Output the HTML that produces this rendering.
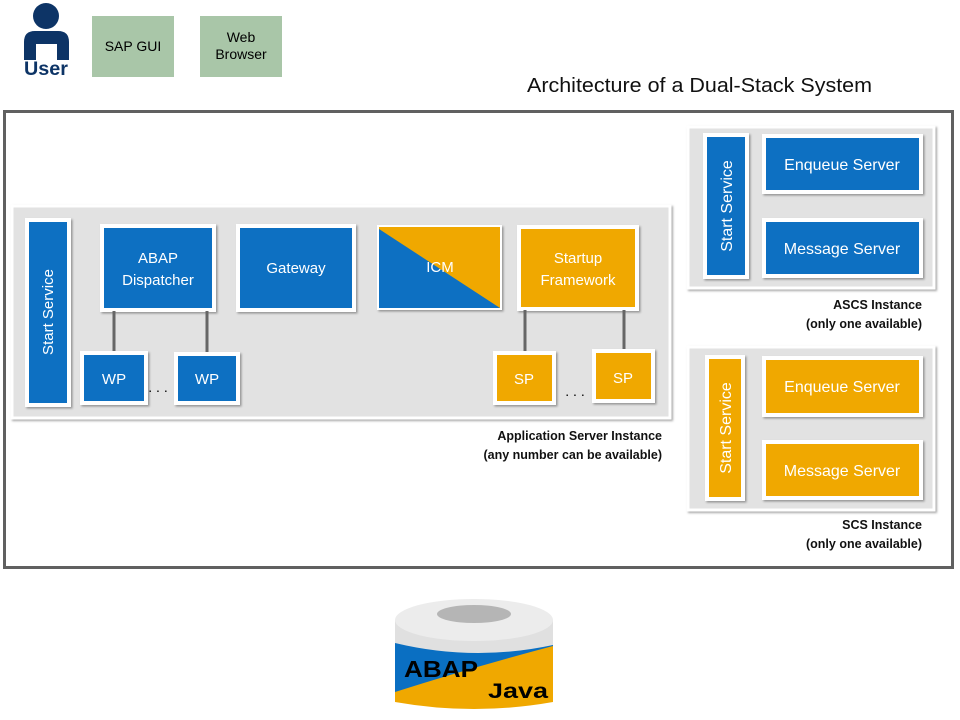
<!DOCTYPE html>
<html><head><meta charset="utf-8">
<style>
html,body{margin:0;padding:0;background:#fff;}
svg{display:block;}
text{font-family:"Liberation Sans",sans-serif;}
</style></head>
<body>
<svg width="960" height="720" viewBox="0 0 960 720" xmlns="http://www.w3.org/2000/svg">
<defs>
<filter id="sh" x="-10%" y="-10%" width="130%" height="130%"><feDropShadow dx="1.5" dy="1.5" stdDeviation="1" flood-color="#000" flood-opacity="0.35"/></filter>
</defs>
<!-- user -->
<circle cx="46" cy="16" r="13" fill="#0d3466"/>
<path d="M24 60 V42 Q24 31 35 31 H58 Q69 31 69 42 V60 H57 V44 H36 V60 Z" fill="#0d3466"/>
<text x="46" y="75" font-size="19" font-weight="bold" fill="#0d3466" text-anchor="middle" textLength="44" lengthAdjust="spacingAndGlyphs">User</text>
<rect x="92" y="16" width="82" height="61" fill="#a9c6a8"/>
<text x="133" y="51" font-size="14" text-anchor="middle">SAP GUI</text>
<rect x="200" y="16" width="82" height="61" fill="#a9c6a8"/>
<text x="241" y="42" font-size="14" text-anchor="middle">Web</text>
<text x="241" y="59" font-size="14" text-anchor="middle">Browser</text>
<text x="527" y="92" font-size="20" fill="#111" textLength="345" lengthAdjust="spacingAndGlyphs">Architecture of a Dual-Stack System</text>
<!-- outer frame -->
<rect x="4.5" y="111.5" width="948" height="456" fill="#fff" stroke="#606060" stroke-width="3"/>

<!-- app server panel -->
<rect x="12" y="206" width="658" height="212" fill="#e2e2e2" stroke="#fff" stroke-width="3" filter="url(#sh)"/>
<g stroke="#fff" stroke-width="4" filter="url(#sh)">
<rect x="27" y="220" width="42" height="185" fill="#0a6fc2"/>
<rect x="102" y="226" width="112" height="84" fill="#0a6fc2"/>
<rect x="238" y="226" width="116" height="84" fill="#0a6fc2"/>
<rect x="519" y="227" width="118" height="82" fill="#f0a800"/>
<rect x="82" y="353" width="64" height="50" fill="#0a6fc2"/>
<rect x="176" y="354" width="62" height="49" fill="#0a6fc2"/>
<rect x="495" y="353" width="59" height="50" fill="#f0a800"/>
<rect x="594" y="351" width="59" height="50" fill="#f0a800"/>
</g>
<g filter="url(#sh)">
<rect x="377" y="225" width="125" height="85" fill="#fff"/>
<rect x="379" y="227" width="121" height="81" fill="#f0a800"/>
<polygon points="379,229 500,308 379,308" fill="#0a6fc2"/>
</g>
<g stroke="#666" stroke-width="3">
<line x1="114" y1="311" x2="114" y2="351"/>
<line x1="207" y1="311" x2="207" y2="352"/>
<line x1="525" y1="310" x2="525" y2="351"/>
<line x1="624" y1="310" x2="624" y2="349"/>
</g>
<g fill="#fff" font-size="15" text-anchor="middle">
<text transform="translate(53,312) rotate(-90)">Start Service</text>
<text x="158" y="263">ABAP</text>
<text x="158" y="285">Dispatcher</text>
<text x="296" y="273">Gateway</text>
<text x="440" y="272">ICM</text>
<text x="578" y="263">Startup</text>
<text x="578" y="285">Framework</text>
<text x="114" y="384">WP</text>
<text x="207" y="384">WP</text>
<text x="524" y="384">SP</text>
<text x="623" y="383">SP</text>
</g>
<text x="158" y="392" font-size="14" text-anchor="middle">. . .</text>
<text x="575" y="396" font-size="14" text-anchor="middle">. . .</text>
<g font-size="12.5" font-weight="bold" text-anchor="end" fill="#111">
<text x="662" y="440">Application Server Instance</text>
<text x="662" y="459">(any number can be available)</text>
<text x="922" y="309">ASCS Instance</text>
<text x="922" y="328">(only one available)</text>
<text x="922" y="529">SCS Instance</text>
<text x="922" y="548">(only one available)</text>
</g>

<!-- ASCS -->
<rect x="688" y="127" width="246" height="161" fill="#e2e2e2" stroke="#fff" stroke-width="3" filter="url(#sh)"/>
<g stroke="#fff" stroke-width="4" filter="url(#sh)">
<rect x="705" y="135" width="42" height="142" fill="#0a6fc2"/>
<rect x="764" y="136" width="157" height="56" fill="#0a6fc2"/>
<rect x="764" y="220" width="157" height="56" fill="#0a6fc2"/>
</g>
<!-- SCS -->
<rect x="688" y="347" width="246" height="163" fill="#e2e2e2" stroke="#fff" stroke-width="3" filter="url(#sh)"/>
<g stroke="#fff" stroke-width="4" filter="url(#sh)">
<rect x="707" y="357" width="36" height="142" fill="#f0a800"/>
<rect x="764" y="358" width="157" height="57" fill="#f0a800"/>
<rect x="764" y="442" width="157" height="56" fill="#f0a800"/>
</g>
<g fill="#fff" font-size="16" text-anchor="middle">
<text transform="translate(732,206) rotate(-90)">Start Service</text>
<text x="842" y="170">Enqueue Server</text>
<text x="842" y="254">Message Server</text>
<text transform="translate(731,428) rotate(-90)">Start Service</text>
<text x="842" y="392">Enqueue Server</text>
<text x="842" y="476">Message Server</text>
</g>

<!-- database -->
<path d="M395 620 L395 702 Q474 716 553 702 L553 620 Z" fill="#f0a800"/>
<path d="M395 620 L395 692 Q470 668 553 646 L553 620 Z" fill="#0a6fc2"/>
<path d="M395 620 L395 643 Q474 662 553 645 L553 620 Z" fill="#e0e0e0"/>
<ellipse cx="474" cy="620" rx="79" ry="21" fill="#ececec"/>
<ellipse cx="474" cy="614" rx="37" ry="9" fill="#b5b5b5"/>
<text x="404" y="677" font-size="23" font-weight="bold" fill="#000" textLength="74" lengthAdjust="spacingAndGlyphs">ABAP</text>
<text x="488" y="698" font-size="21" font-weight="bold" fill="#000" textLength="60" lengthAdjust="spacingAndGlyphs">Java</text>
</svg>
</body></html>
